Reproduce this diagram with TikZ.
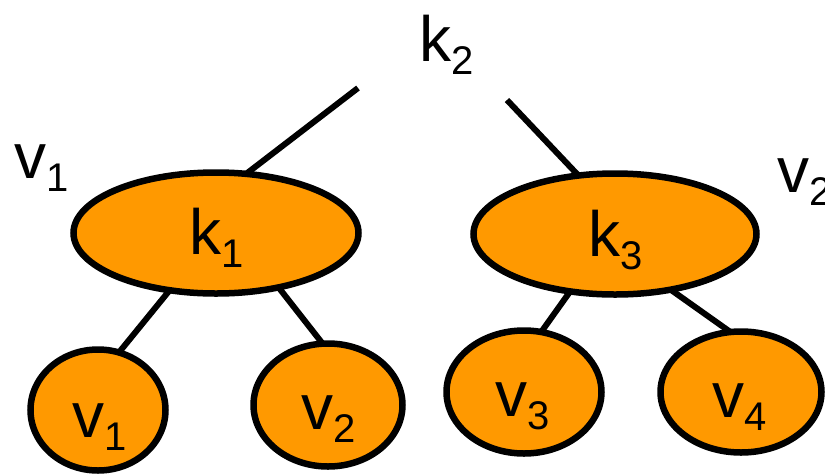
\documentclass[tikz,border=0pt]{standalone}
\usepackage{fontspec}
\setmainfont{Liberation Sans}
\usetikzlibrary{shapes.geometric}
\definecolor{nodeorange}{RGB}{255,153,0}
\newcommand\lab[2]{#1\raisebox{-0.2em}{\fontsize{40}{40}\selectfont #2}}
\tikzset{
  big/.style={ellipse, draw=black, fill=nodeorange, line width=6.5pt, inner sep=0pt, outer sep=0pt},
  txt/.style={inner sep=0pt, font=\fontsize{64}{64}\selectfont},
  edge/.style={line width=6pt}
}
\begin{document}
\begin{tikzpicture}[x=1pt,y=-1pt]
\useasboundingbox (0,0) rectangle (825,475);
% ellipses
\node[big, minimum width=285pt, minimum height=121pt] (k1) at (216,233) {};
\node[big, minimum width=283pt, minimum height=121pt] (k3) at (615,234) {};
\node[big, minimum width=135pt, minimum height=121pt] (v1) at (98,410) {};
\node[big, minimum width=149pt, minimum height=123pt] (v2) at (328,405) {};
\node[big, minimum width=155pt, minimum height=123pt] (v3) at (524,392) {};
\node[big, minimum width=161pt, minimum height=121pt] (v4) at (741,392) {};
% texts
\node[txt] (tk2) at (447,45) {\lab{k}{2}};
\node[txt] (tv1) at (42,168) {\lab{v}{1}};
\node[txt, anchor=west] (tv2) at (777,182) {\lab{v}{2}};
\node[txt] (tk1) at (217,238) {\lab{k}{1}};
\node[txt] (tk3) at (616,240) {\lab{k}{3}};
\node[txt] (lv1) at (100,427) {\lab{v}{1}};
\node[txt] (lv2) at (329,419) {\lab{v}{2}};
\node[txt] (lv3) at (523,406) {\lab{v}{3}};
\node[txt] (lv4) at (740,407) {\lab{v}{4}};
% free ends
\coordinate (ca) at (358,88);
\coordinate (cb) at (507,100);
% connectors
\draw[edge] (ca) -- (k1.63);
\draw[edge] (cb) -- (k3.122);
\draw[edge] (k1.231) -- (v1.70);
\draw[edge] (k1.319) -- (v2.95);
\draw[edge] (k3.232) -- (v3.74);
\draw[edge] (k3.315) -- (v4.100);
\end{tikzpicture}
\end{document}
